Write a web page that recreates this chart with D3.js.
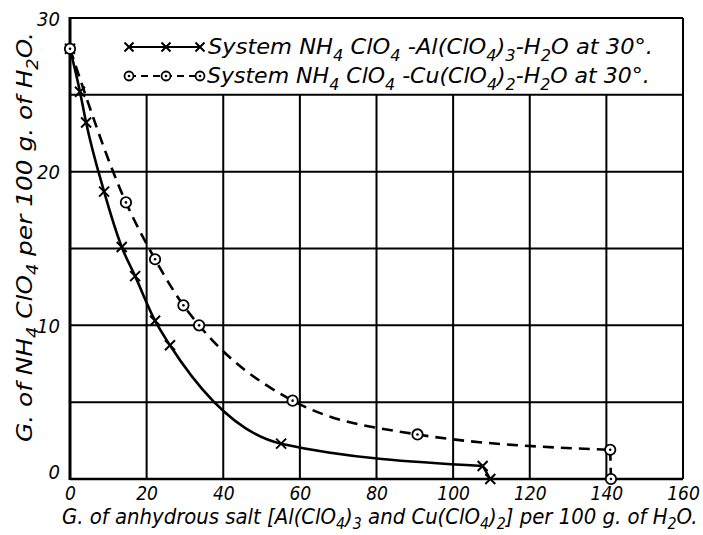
<!DOCTYPE html>
<html><head><meta charset="utf-8">
<script src="https://cdn.jsdelivr.net/npm/d3@7"></script>
<style>body{margin:0;background:#fff}</style>
</head><body><svg id="c" width="703" height="535" xmlns="http://www.w3.org/2000/svg"></svg>
<script>
// ---- data ----
const alX = [0, 2.6, 4.2, 8.9, 13.5, 17.0, 22.2, 26.1, 55.1, 107.7, 109.7];
const alY = [28, 25.2, 23.2, 18.7, 15.1, 13.2, 10.3, 8.7, 2.3, 0.85, 0];
const cuX = [0, 14.6, 22.2, 29.6, 33.7, 58.1, 90.7, 141.0, 141.2];
const cuY = [28, 18.0, 14.3, 11.3, 10.0, 5.1, 2.9, 1.9, 0];
const xTicks = [0, 20, 40, 60, 80, 100, 120, 140, 160];
const yTicks = [0, 10, 20, 30];
const xGrid = [20, 40, 60, 80, 100, 120, 140];
const yGrid = [5, 10, 15, 20, 25];
const legendTexts = ["System NH_4 ClO_4 -Al(ClO_4)_3-H_2O at 30°.", "System NH_4 ClO_4 -Cu(ClO_4)_2-H_2O at 30°."];
const xTitle = "G. of anhydrous salt [Al(ClO_4)_3 and Cu(ClO_4)_2] per 100 g. of H_2O.";
const yTitle = "G. of NH_4 ClO_4 per 100 g. of H_2O.";

const FONT = "'DejaVu Sans Condensed','DejaVu Sans',sans-serif";
const svg = d3.select("#c");
const x = d3.scaleLinear().domain([0, 160]).range([70, 683]);
const y = d3.scaleLinear().domain([0, 30]).range([479, 18]);

// grid
const g = svg.append("g").attr("stroke", "#000").attr("fill", "none");
g.selectAll(".vg").data(xGrid).join("line")
  .attr("x1", d => x(d)).attr("x2", d => x(d)).attr("y1", y(0)).attr("y2", y(25)).attr("stroke-width", 2);
g.selectAll(".hg").data(yGrid).join("line")
  .attr("x1", x(0)).attr("x2", x(160)).attr("y1", d => y(d)).attr("y2", d => y(d)).attr("stroke-width", 2);
// frame
g.append("line").attr("x1", x(0)).attr("x2", x(160)).attr("y1", y(30)).attr("y2", y(30)).attr("stroke-width", 2);
g.append("line").attr("x1", x(160)).attr("x2", x(160)).attr("y1", y(0)).attr("y2", y(30)).attr("stroke-width", 2);
g.append("line").attr("x1", x(0)).attr("x2", x(160)).attr("y1", y(0)).attr("y2", y(0)).attr("stroke-width", 2.5);
g.append("line").attr("x1", x(0)).attr("x2", x(0)).attr("y1", y(0) + 1).attr("y2", y(30) - 1).attr("stroke-width", 3);

// axes labels via d3 axes (no domain / tick lines)
const xAxis = svg.append("g").attr("transform", `translate(0,${y(0)})`)
  .call(d3.axisBottom(x).tickValues(xTicks).tickSize(0).tickPadding(0).tickFormat(d3.format("d")));
xAxis.select(".domain").remove();
xAxis.selectAll("text").attr("font-family", FONT).attr("font-style", "italic")
  .attr("font-size", 19).attr("fill", "#000").attr("dy", 0).attr("y", 21)
  .attr("transform", d => `translate(${0},0)`);

const yAxis = svg.append("g").attr("transform", `translate(${x(0)},0)`)
  .call(d3.axisLeft(y).tickValues(yTicks).tickSize(0).tickPadding(10).tickFormat(d3.format("d")));
yAxis.select(".domain").remove();
yAxis.selectAll("text").attr("font-family", FONT).attr("font-style", "italic")
  .attr("font-size", 20).attr("fill", "#000").attr("dy", d => d === 0 ? "-0.05em" : "0.35em");

// rich text helper (underscore = subscript next char)
function rich(sel, str, size, shf) {
  const runs = [];
  for (let i = 0; i < str.length; i++) {
    if (str[i] === "_" && i + 1 < str.length) { runs.push({t: str[i + 1], sub: true}); i++; }
    else {
      if (runs.length && !runs[runs.length - 1].sub) runs[runs.length - 1].t += str[i];
      else runs.push({t: str[i], sub: false});
    }
  }
  const sh = size * shf;
  let prevSub = false;
  runs.forEach(r => {
    const ts = sel.append("tspan").text(r.t);
    if (r.sub) { ts.attr("font-size", size * 0.72); if (!prevSub) ts.attr("dy", sh); }
    else if (prevSub) ts.attr("dy", -sh);
    prevSub = r.sub;
  });
}
function label(str, size, px, py, w, rot, shf) {
  const t = svg.append("text").attr("font-family", FONT).attr("font-style", "italic")
    .attr("font-size", size).attr("fill", "#000").attr("x", 0).attr("y", 0);
  rich(t, str, size, shf);
  const k = w / t.node().getComputedTextLength();
  t.attr("transform", `translate(${px},${py}) ${rot ? "rotate(-90)" : ""} scale(${k},1)`);
  return t;
}

// curves
const line = d3.line().x(d => x(d[0])).y(d => y(d[1])).curve(d3.curveMonotoneX);
const straight = d3.line().x(d => x(d[0])).y(d => y(d[1]));
const al = alX.map((v, i) => [v, alY[i]]);
const cu = cuX.map((v, i) => [v, cuY[i]]);
const n1 = al.length - 1, n2 = cu.length - 1;
svg.append("path").attr("d", line(cu.slice(0, n2))).attr("fill", "none").attr("stroke", "#000")
  .attr("stroke-width", 2.6).attr("stroke-dasharray", "11,7");
svg.append("path").attr("d", straight(cu.slice(n2 - 1))).attr("fill", "none").attr("stroke", "#000")
  .attr("stroke-width", 2.6).attr("stroke-dasharray", "11,7");
svg.append("path").attr("d", line(al.slice(0, n1))).attr("fill", "none").attr("stroke", "#000")
  .attr("stroke-width", 2.6);
svg.append("path").attr("d", straight(al.slice(n1 - 1))).attr("fill", "none").attr("stroke", "#000")
  .attr("stroke-width", 2.4);

function cross(sel, cx, cy, s) {
  sel.append("path").attr("d", `M${cx - s},${cy - s}L${cx + s},${cy + s}M${cx - s},${cy + s}L${cx + s},${cy - s}`)
    .attr("stroke", "#000").attr("stroke-width", 2).attr("fill", "none");
}
function ring(sel, cx, cy, r) {
  sel.append("circle").attr("cx", cx).attr("cy", cy).attr("r", r).attr("fill", "#fff").attr("stroke", "#000").attr("stroke-width", 1.8);
  sel.append("circle").attr("cx", cx).attr("cy", cy).attr("r", 1.3).attr("fill", "#000");
}
const m = svg.append("g");
al.forEach(d => cross(m, x(d[0]), y(d[1]), 5));
cu.forEach(d => ring(m, x(d[0]), y(d[1]), 5.2));

// legend
const lg = svg.append("g");
const lx = [129, 166, 200];
lg.append("line").attr("x1", lx[0]).attr("x2", lx[2]).attr("y1", 47).attr("y2", 47).attr("stroke", "#000").attr("stroke-width", 2);
lx.forEach(v => cross(lg, v, 47, 4.5));
lg.append("line").attr("x1", lx[0]).attr("x2", lx[2]).attr("y1", 76).attr("y2", 76).attr("stroke", "#000").attr("stroke-width", 2).attr("stroke-dasharray", "7,5");
lx.forEach(v => ring(lg, v, 76, 4.5));
label(legendTexts[0], 22, 208, 54, 445, false, 0.3);
label(legendTexts[1], 22, 207, 83, 443, false, 0.3);

// titles
label(xTitle, 21, 62, 524, 636, false, 0.22);
label(yTitle, 22, 32, 442, 410, true, 0.25);
</script></body></html>
